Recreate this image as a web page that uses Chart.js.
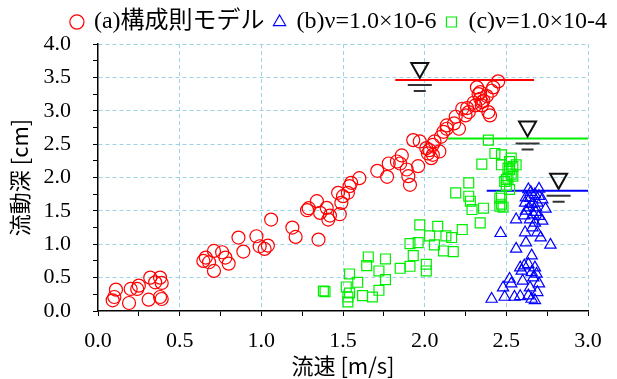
<!DOCTYPE html>
<html><head><meta charset="utf-8">
<script src="https://cdn.jsdelivr.net/npm/chart.js@4.4.1/dist/chart.umd.min.js"></script>
<style>html,body{margin:0;padding:0;background:#fff}canvas{display:block}</style>
</head><body>
<canvas id="c" width="617" height="379"></canvas>
<script>
// ---- data (velocity [m/s], depth [cm]) ----
const seriesNames = ['(a)構成則モデル', '(b)ν=1.0×10-6', '(c)ν=1.0×10-4'];
const seriesColors = ['#ff0000', '#0000ff', '#00ee00'];

const modelA = [
  [0.09,0.16],[0.10,0.21],[0.11,0.32],[0.19,0.12],[0.20,0.33],[0.24,0.33],[0.25,0.38],[0.31,0.17],
  [0.32,0.50],[0.35,0.43],[0.38,0.50],[0.39,0.42],[0.38,0.21],[0.39,0.18],
  [0.645,0.75],[0.66,0.80],[0.68,0.73],[0.71,0.90],[0.71,0.60],[0.76,0.88],[0.78,0.80],[0.80,0.71],
  [0.86,1.10],[0.89,0.89],[0.97,1.12],[0.99,0.97],[1.02,0.93],[1.04,0.98],[1.06,1.37],[1.19,1.25],
  [1.21,1.11],[1.28,1.51],[1.29,1.54],[1.34,1.645],[1.35,1.07],[1.36,1.47],[1.40,1.545],[1.41,1.37],
  [1.42,1.43],[1.48,1.45],[1.49,1.62],[1.47,1.77],[1.50,1.72],[1.53,1.77],[1.54,1.87],[1.55,1.92],
  [1.60,1.99],[1.71,2.10],[1.77,2.01],[1.78,2.21],[1.83,2.24],[1.86,2.33],[1.85,2.21],[1.89,2.12],
  [1.91,1.89],[1.96,2.17],[1.90,2.02],
  [1.93,2.56],[1.97,2.54],[2.01,2.44],[2.02,2.36],[2.03,2.41],[2.05,2.49],[2.05,2.34],[2.04,2.29],
  [2.06,2.54],[2.09,2.39],[2.10,2.61],[2.115,2.685],[2.135,2.78],[2.135,2.73],[2.18,2.81],[2.19,2.91],
  [2.21,2.73],[2.23,3.03],[2.25,2.93],[2.26,3.04],[2.27,2.98],[2.31,3.08],[2.32,3.35],[2.33,3.25],
  [2.34,3.28],[2.34,3.18],[2.35,3.08],[2.35,3.13],[2.36,3.15],[2.38,3.22],[2.39,2.98],[2.40,2.93],
  [2.41,3.30],[2.42,3.35],[2.45,3.44],[2.30,3.12]
];
const nuB = [
  [2.635,1.82],[2.70,1.83],[2.615,1.62],[2.645,1.69],[2.675,1.745],[2.69,1.62],[2.72,1.67],[2.655,1.60],
  [2.56,1.37],[2.62,1.50],[2.665,1.445],[2.70,1.42],[2.645,1.37],[2.675,1.32],[2.72,1.35],[2.68,1.55],
  [2.465,1.165],[2.615,1.175],[2.69,1.175],[2.71,1.10],[2.56,0.93],[2.62,1.025],[2.77,0.99],[2.655,0.83],
  [2.585,0.65],[2.61,0.68],[2.635,0.70],[2.675,0.65],[2.594,0.60],[2.655,0.58],[2.685,0.555],[2.665,0.50],
  [2.70,0.41],[2.52,0.48],[2.53,0.41],[2.48,0.35],[2.49,0.21],[2.41,0.18],[2.55,0.21],[2.585,0.22],
  [2.635,0.23],[2.655,0.18],[2.675,0.16],[2.69,0.28],[2.645,0.35],[2.60,0.45],[2.66,1.25],[2.64,1.55],
  [2.70,1.72],[2.65,1.78],[2.62,1.70],[2.68,1.48],[2.61,1.43],[2.74,1.53]
];
const nuC = [
  [1.38,0.30],[1.39,0.29],[1.52,0.36],[1.54,0.555],[1.53,0.21],[1.53,0.135],[1.54,0.27],[1.59,0.43],
  [1.62,0.23],[1.655,0.81],[1.645,0.68],[1.68,0.21],[1.72,0.60],[1.72,0.31],[1.76,0.78],[1.76,0.47],
  [1.85,0.64],[1.91,0.67],[1.93,0.83],[1.91,1.01],[1.96,1.025],[1.97,1.29],[2.01,0.70],[2.01,0.60],
  [2.03,1.125],[2.06,0.99],[2.08,1.27],[2.115,0.90],[2.13,1.125],[2.165,1.10],[2.175,0.89],[2.23,1.22],
  [2.19,1.77],[2.27,1.92],[2.27,1.72],[2.28,1.645],[2.29,1.52],[2.34,1.32],[2.36,1.54],[2.35,2.20],
  [2.39,2.56],[2.43,2.36],[2.46,1.57],[2.47,1.60],[2.47,2.34],[2.47,2.19],[2.49,1.94],[2.52,2.24],
  [2.51,2.14],[2.54,2.165],[2.53,2.29],[2.56,2.19],[2.52,2.115],[2.50,1.97],[2.54,2.02],[2.51,1.99],
  [2.52,1.82],[2.47,1.72],[2.46,1.69],[2.48,1.555],[2.50,1.88],[2.53,2.05]
];

// water surface marks: order a, b, c
const waterLevel   = [3.46, 1.80, 2.585];
const waterFrom    = [1.82, 2.38, 2.14];
const waterTo      = [2.67, 3.00, 3.00];
const waterSymbolX = [1.97, 2.82, 2.63];

const xTitle = '流速 [m/s]';
const yTitle = '流動深 [cm]';

// ---- chart ----
const toXY = arr => arr.map(p => ({x: p[0], y: p[1]}));
const isMajor = v => Math.abs(v * 2 - Math.round(v * 2)) < 1e-6;
const gridCol = c => (isMajor(c.tick.value) && c.tick.value > 0) ? '#9fd2e4' : 'rgba(0,0,0,0)';
const serif = "Liberation Serif, Times New Roman, Noto Sans CJK JP, serif";
const sans = "Noto Sans CJK JP, Noto Sans, sans-serif";

const styles = ['circle', 'triangle', 'rect'];
const radii = [6.5, 6.5, 7];
const pointSets = [modelA, nuB, nuC];
const datasets = pointSets.map((s, i) => ({
  label: seriesNames[i],
  data: toXY(s),
  pointStyle: styles[i],
  pointRadius: radii[i],
  borderColor: seriesColors[i],
  backgroundColor: 'rgba(0,0,0,0)',
  borderWidth: 1.2,
  showLine: false
}));
waterLevel.forEach((lv, i) => {
  datasets.push({
    label: 'wl' + i,
    data: [{x: waterFrom[i], y: lv}, {x: waterTo[i], y: lv}],
    showLine: true, pointRadius: 0, borderColor: seriesColors[i],
    borderWidth: 2, fill: false
  });
});

const waterSymbols = {
  id: 'waterSymbols',
  afterDatasetsDraw(chart) {
    const {ctx, scales: {x, y}} = chart;
    ctx.save();
    waterLevel.forEach((lv, i) => {
      const px = x.getPixelForValue(waterSymbolX[i]);
      const py = y.getPixelForValue(lv);
      ctx.lineWidth = 2; ctx.strokeStyle = '#111';
      ctx.beginPath();
      ctx.moveTo(px - 8.5, py - 17); ctx.lineTo(px + 8.5, py - 17); ctx.lineTo(px, py - 2);
      ctx.closePath(); ctx.stroke();
      ctx.strokeStyle = '#333';
      ctx.beginPath();
      ctx.moveTo(px - 12, py + 5); ctx.lineTo(px + 12, py + 5);
      ctx.moveTo(px - 6, py + 11); ctx.lineTo(px + 6, py + 11);
      ctx.stroke();
    });
    ctx.restore();
  }
};

new Chart(document.getElementById('c'), {
  type: 'scatter',
  data: {datasets},
  plugins: [waterSymbols],
  options: {
    responsive: false, animation: false, devicePixelRatio: 1,
    layout: {padding: {left: 0, right: 0, top: 0, bottom: 0}},
    plugins: {
      legend: {
        position: 'top', align: 'end',
        labels: {
          usePointStyle: true, boxWidth: 10, boxHeight: 10, padding: 10, color: '#000',
          font: {family: serif, size: 24},
          filter: item => item.datasetIndex < 3
        }
      },
      tooltip: {enabled: false}
    },
    scales: {
      x: {
        type: 'linear', min: 0, max: 3,
        ticks: {stepSize: 0.25, autoSkip: false, maxRotation: 0, padding: 12, color: '#000',
          font: {family: serif, size: 22},
          callback: v => isMajor(v) ? v.toFixed(1) : ''},
        grid: {color: gridCol, tickColor: '#000', tickLength: 5, lineWidth: 1, tickBorderDash: []},
        border: {display: true, color: '#000', width: 1.5, dash: [4, 3]},
        title: {display: true, text: xTitle, color: '#000', font: {family: sans, size: 22}, padding: {top: 0, bottom: 0}},
        afterFit: s => { s.height = 68; }
      },
      y: {
        type: 'linear', min: 0, max: 4,
        ticks: {stepSize: 0.25, autoSkip: false, padding: 22, color: '#000',
          font: {family: serif, size: 22},
          callback: v => isMajor(v) ? v.toFixed(1) : ''},
        grid: {color: gridCol, tickColor: '#000', tickLength: 5, lineWidth: 1, tickBorderDash: []},
        border: {display: true, color: '#000', width: 1.5, dash: [4, 3]},
        title: {display: true, text: yTitle, color: '#000', font: {family: sans, size: 22}, padding: {top: 6, bottom: 0}},
        afterFit: s => { s.width = 98; }
      },
      yRight: {
        type: 'linear', position: 'right', axis: 'y', display: true,
        grid: {display: false}, ticks: {display: false}, border: {display: false},
        afterFit: s => { s.width = 29; }
      }
    }
  }
});
</script>
</body></html>
